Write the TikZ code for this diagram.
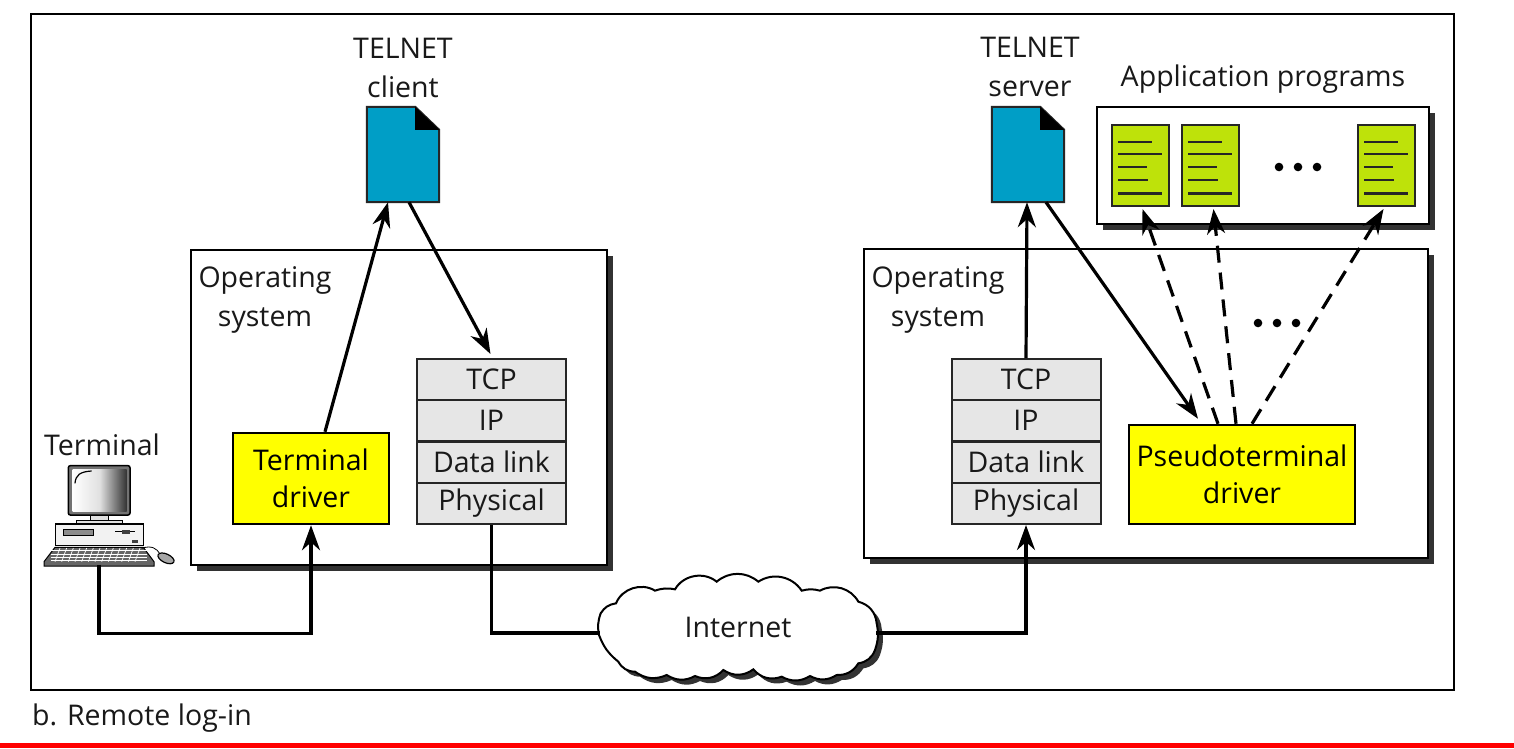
\documentclass[tikz,border=0pt]{standalone}
\usepackage{fontspec}
\setmainfont{Open Sans}
\usetikzlibrary{arrows.meta,calc,shadings}
\definecolor{docblue}{RGB}{0,158,198}
\definecolor{docgreen}{RGB}{190,226,10}
\definecolor{stackgray}{RGB}{230,230,230}
\definecolor{shadowgray}{RGB}{50,50,50}
\definecolor{barred}{RGB}{255,0,0}
\definecolor{drvyellow}{RGB}{255,255,0}
\tikzset{
  txt/.style={inner sep=0pt,align=center,font=\fontsize{28.5}{39}\selectfont,text=black!90},
  panel/.style={draw=black,fill=white,line width=2.5pt,inner sep=0pt},
  shade box/.style={fill=shadowgray,draw=none},
  stackcell/.style={draw=black!85,fill=stackgray,line width=2pt,minimum width=149pt,minimum height=41pt,inner sep=0pt,font=\fontsize{28.5}{39}\selectfont,text=black!90},
  driver/.style={draw=black,fill=drvyellow,line width=2.5pt,inner sep=0pt,align=center,font=\fontsize{28.5}{37}\selectfont,text=black},
  bluedoc/.style={minimum width=72pt,minimum height=95pt,inner sep=0pt},
  greendoc/.style={draw=black!85,fill=docgreen,line width=2pt,minimum width=57pt,minimum height=81pt,inner sep=0pt},
  arr/.style={line width=3.2pt,-{Stealth[length=25pt,width=18pt,inset=8pt]}},
  dasharr/.style={arr,dash pattern=on 17pt off 10pt},
  wire/.style={line width=3.2pt},
  txtline/.style={line width=2.4pt,black!85}
}
\newcommand{\dotrow}[2]{\fill (#1,#2) circle (4.3pt) ({#1+19},#2) circle (4.3pt) ({#1+38},#2) circle (4.3pt);}
\newcommand{\docbody}[1]{%
  \draw[line width=2pt,fill=docblue,draw=black!85] ($(#1.north west)$) -- ([xshift=-24pt]#1.north east) -- ([yshift=-23pt]#1.north east) -- (#1.south east) -- (#1.south west) -- cycle;
  \fill[black] ([xshift=-24pt]#1.north east) -- ([yshift=-23pt]#1.north east) -- ([xshift=-24pt,yshift=-23pt]#1.north east) -- cycle;}
\newcommand{\doclines}[1]{%
  \draw[txtline] ([shift={(7,18)}]#1.north west) -- ++(34,0);
  \draw[txtline] ([shift={(7,30)}]#1.north west) -- ++(44,0);
  \draw[txtline] ([shift={(7,43)}]#1.north west) -- ++(29,0);
  \draw[txtline] ([shift={(7,56)}]#1.north west) -- ++(30,0);
  \draw[txtline] ([shift={(7,69.5)}]#1.north west) -- ++(44,0);}
\newcommand{\cloudpath}{(57,225) to[bend left=15] (62,160) to[bend left=25] (108,130) to[bend left=50] (225,92) to[bend left=15] (285,88) to[bend left=50] (410,65) to[bend left=40] (535,65) to[bend left=45] (665,92) to[bend left=15] (720,92) to[bend left=45] (835,125) to[bend left=35] (890,190) to[bend left=15] (885,270) to[bend left=30] (835,310) to[bend left=30] (770,345) to[bend left=30] (690,348) to[bend left=30] (605,350) to[bend left=35] (520,328) to[bend left=35] (430,330) to[bend left=35] (345,348) to[bend left=30] (260,345) to[bend left=30] (165,335) to[bend left=30] (115,305) to[bend left=15] (57,225) -- cycle}
\begin{document}
\begin{tikzpicture}[x=1pt,y=-1pt]
\useasboundingbox (0,0) rectangle (1514,748);
\fill[white] (0,0) rectangle (1514,748);
\fill[barred] (0,743) rectangle (1514,748);
\node[draw=black,line width=2.5pt,minimum width=1423pt,minimum height=676pt,inner sep=0pt] (frame) at (742.5,352) {};
\node[txt,anchor=west] (caption) at (32,718) {b. Remote log-in};

% panels
\fill[shade box] (197,256) rectangle (613,571);
\node[panel,minimum width=416pt,minimum height=315pt] (osl) at (399,407.5) {};
\fill[shade box] (870,255) rectangle (1434,564);
\node[panel,minimum width=564pt,minimum height=309pt] (osr) at (1146,403.5) {};
\fill[shade box] (1103,113) rectangle (1435,230);
\node[panel,minimum width=332pt,minimum height=117pt] (apps) at (1263,165.5) {};

% text labels
\node[txt] (oslt) at (265,300) {Operating\\system};
\node[txt] (osrt) at (938,300) {Operating\\system};
\node[txt] (clientt) at (403,68) {TELNET\\client};
\node[txt] (servert) at (1030,66.5) {TELNET\\server};
\node[txt] (appst) at (1263,79) {Application programs};
\node[txt] (termt) at (102,445) {Terminal};

% documents
\node[bluedoc] (client) at (403,154.5) {};
\docbody{client}
\node[bluedoc] (server) at (1028,154.5) {};
\docbody{server}
\node[greendoc] (a1) at (1140.5,165.5) {};
\node[greendoc] (a2) at (1210.5,165.5) {};
\node[greendoc] (a3) at (1386.5,165.5) {};
\doclines{a1}\doclines{a2}\doclines{a3}
\dotrow{1279}{167}
\dotrow{1258}{323}

% stacks
\node[stackcell] (ltcp) at (491.5,379.5) {TCP};
\node[stackcell] (lip) at (491.5,420.5) {IP};
\node[stackcell] (ldl) at (491.5,462) {Data link};
\node[stackcell] (lph) at (491.5,503.5) {Physical};
\node[stackcell] (rtcp) at (1026,379.5) {TCP};
\node[stackcell] (rip) at (1026,420.5) {IP};
\node[stackcell] (rdl) at (1026,462) {Data link};
\node[stackcell] (rph) at (1026,503.5) {Physical};

% drivers
\node[driver,minimum width=156pt,minimum height=91pt] (tdrv) at (311,478.5) {Terminal\\driver};
\node[driver,minimum width=226pt,minimum height=99pt] (pdrv) at (1242,474.5) {Pseudoterminal\\driver};

% computer
\node[minimum width=130pt,minimum height=105pt,inner sep=0pt] (pc) at (108,516) {};
\begin{scope}[shift={(30,430)},scale=1/3]
  \draw[line width=1pt,fill=black!12] (182,255) rectangle (235,270);
  \draw[line width=1pt,fill=black!12] (138,270) rectangle (278,282);
  \draw[line width=1.5pt,fill=black!55,rounded corners=2pt] (115,107) rectangle (300,255);
  \shade[left color=white,right color=black!80,middle color=black!12] (128,118) rectangle (290,245);
  \draw[line width=1.2pt] (135,160) .. controls (137,135) and (150,125) .. (185,123);
  \draw[line width=1.2pt,fill=black!5] (76,282) rectangle (340,347);
  \draw[line width=1pt,fill=black!45] (100,298) rectangle (190,317);
  \draw[line width=1.2pt] (255,305) -- (315,305);
  \fill[black!75] (275,300) rectangle (300,312);
  \fill[black!75] (305,330) rectangle (325,338);
  \draw[line width=1pt,fill=black!60] (75,352) -- (340,352) -- (372,395) -- (372,408) -- (42,408) -- (42,395) -- cycle;
  \foreach \yy in {362,372,382,392} \draw[white,line width=.7pt] (62,\yy) -- (352,\yy);
  \foreach \xx in {90,110,...,330} \draw[white,line width=.7pt] (\xx,354) -- (\xx-15,395);
  \draw[line width=.8pt] (335,355) .. controls (365,345) and (380,355) .. (390,372);
  \draw[line width=1.2pt,fill=black!35,rotate around={-25:(408,385)}] (408,385) ellipse (26 and 13);
\end{scope}

% cloud
\begin{scope}[shift={(585,565)},scale=1/3]
  \fill[black!80] \cloudpath;
\end{scope}
\begin{scope}[shift={(580,560)},scale=1/3]
  \draw[line width=2pt,fill=white] \cloudpath;
\end{scope}
\node[txt,minimum width=276pt,minimum height=60pt] (net) at (738,627) {Internet};

% connectors
\draw[arr] ([xshift=14pt]tdrv.north) -- ([xshift=-15pt]client.south);
\draw[arr] ([xshift=6pt]client.south) -- ([shift={(-1,-4)}]ltcp.north);
\draw[arr] ([shift={(-9,-4)}]pc.south) |- ++(0,69) -| (tdrv.south);
\draw[wire] (lph.south) |- ([yshift=-6pt]net.west);
\draw[arr] ([yshift=-6pt]net.east) -| (rph.south);
\draw[arr] (rtcp.north) -- ([xshift=-1pt]server.south);
\draw[arr] ([xshift=18pt]server.south) -- ([shift={(-44,-5)}]pdrv.north);
\draw[dasharr] ([xshift=-24pt]pdrv.north) -- ([shift={(2,2)}]a1.south);
\draw[dasharr] ([xshift=-6pt]pdrv.north) -- ([shift={(3,2)}]a2.south);
\draw[dasharr] ([xshift=10pt]pdrv.north) -- ([shift={(-3,2)}]a3.south);
\end{tikzpicture}
\end{document}
